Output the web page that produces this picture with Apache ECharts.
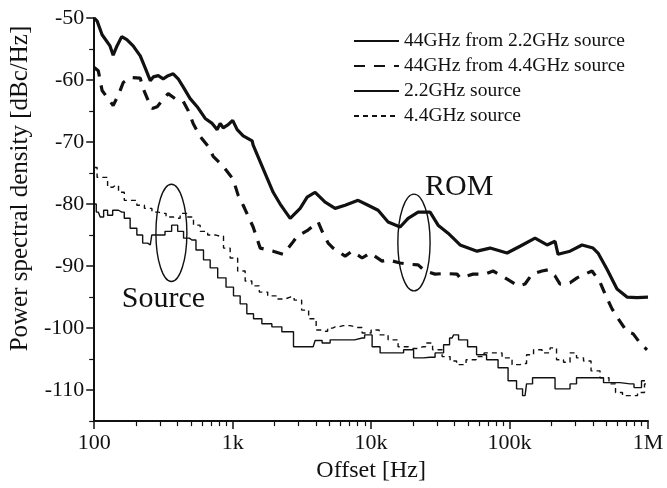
<!DOCTYPE html>
<html>
<head>
<meta charset="utf-8">
<script src="https://cdn.jsdelivr.net/npm/echarts@6/dist/echarts.min.js"></script>
<style>
  html, body { margin: 0; background: #fff; }
  #chart { width: 667px; height: 488px; }
</style>
</head>
<body>
<div id="chart"></div>
<script>
// [offset Hz, dBc/Hz]
const rom22 = [[100,-50],[105,-50.5],[114,-52.7],[130,-54.5],[137,-56],[146,-54.5],[158,-53],[172,-53.5],[191,-54.5],[215,-56.1],[233,-58],[254,-60.1],[267,-59.5],[290,-59.3],[315,-59.8],[342,-59.3],[372,-59],[404,-59.8],[439,-61.1],[493,-63],[554,-64.3],[633,-66.2],[711,-67],[773,-68],[812,-67],[854,-67.7],[928,-67.2],[1000,-66.5],[1078,-68],[1191,-69],[1383,-69.8],[1406,-70.5],[1667,-74.4],[1961,-78.1],[2203,-80],[2602,-82.3],[3072,-80.7],[3451,-78.9],[3941,-78.1],[4655,-79.7],[5495,-80.7],[6493,-80.2],[8055,-79.4],[9513,-80.2],[11230,-81],[13265,-82.9],[16200,-83.7],[18500,-82.3],[21850,-81.3],[26670,-81.3],[30460,-83.4],[35970,-84.7],[43920,-86.6],[58270,-87.6],[72320,-87.1],[95920,-87.9],[119100,-86.8],[152800,-85.5],[186600,-86.6],[213100,-86],[224000,-88.1],[273400,-87.6],[333800,-86.6],[400900,-87.1],[435500,-87.9],[505800,-90.5],[597400,-93.7],[705200,-95],[833000,-95.1],[1000000,-95]];

const rom44 = [[100,-58],[107,-58.5],[114,-61.7],[123,-62.7],[137,-64.1],[149,-62.5],[162,-60.4],[182,-59.6],[215,-59.7],[226,-61.4],[245,-63.3],[262,-64.6],[285,-64.3],[310,-63.3],[342,-62.2],[384,-63],[439,-63.4],[477,-64.9],[518,-67],[582,-69.1],[665,-70.7],[723,-72.3],[854,-73.9],[1008,-76],[1096,-78.6],[1191,-80.2],[1406,-83.7],[1580,-87.1],[1961,-87.6],[2315,-88.1],[2690,-86.3],[2922,-85.2],[3451,-84.3],[4143,-82.9],[4428,-84.4],[4893,-86.3],[5316,-87.1],[6493,-88.4],[7292,-87.6],[8610,-88.7],[9836,-87.9],[12000,-89.2],[13265,-89],[16200,-89.5],[18500,-89.7],[21850,-89.8],[24540,-90.8],[28980,-91.3],[34220,-91.2],[41780,-91.3],[43920,-91.9],[54520,-91.3],[66550,-91.3],[76020,-90.8],[88290,-91.6],[100800,-92.4],[115200,-93.2],[129400,-92.9],[145400,-91.3],[171700,-90.8],[189700,-90.6],[213100,-91.6],[231500,-92.9],[273400,-92.7],[307200,-91.9],[350900,-91.3],[394200,-90.8],[450200,-92.6],[489300,-94.5],[549600,-96.9],[597400,-98.2],[705200,-100.6],[779400,-100.9],[875600,-102.4],[983600,-103.5]];

const src22 = [[100,-80],[107,-81.3],[114,-82.1],[120,-81],[130,-81.8],[142,-81],[158,-81.3],[172,-82.3],[192,-83.9],[215,-85],[233,-86.3],[254,-86.6],[267,-85],[308,-85],[342,-84.4],[384,-83.4],[418,-84.4],[467,-85.5],[507,-85.8],[582,-87.4],[651,-89],[727,-90.3],[836,-91.9],[959,-93.4],[1072,-94.8],[1197,-96.1],[1338,-97.7],[1495,-98.5],[1766,-99.3],[2085,-99.8],[2462,-100.6],[3072,-103],[3813,-103],[4074,-102],[4813,-102.4],[5316,-101.9],[6711,-101.9],[8610,-101.6],[9357,-101.1],[11050,-103],[12210,-104],[15410,-104],[19120,-103.5],[21490,-104.8],[26670,-104.7],[31490,-104],[35380,-102.7],[38440,-101.6],[40420,-101.1],[45400,-101.9],[54520,-103],[61240,-104.3],[76020,-105.1],[89790,-106.4],[106000,-108.5],[119100,-109.8],[129400,-110.9],[136000,-109],[158000,-108],[206100,-108],[220300,-109.8],[260100,-109.8],[287400,-109],[322800,-108],[428300,-108],[531800,-108.8],[741300,-109],[847000,-109.6],[951200,-108.5]];

const src44 = [[100,-74.1],[110,-75.7],[120,-75.7],[130,-77.3],[142,-77],[158,-78.1],[172,-79.4],[192,-79.4],[215,-80.2],[247,-80.7],[276,-81.3],[308,-81.5],[354,-82.1],[395,-82.3],[441,-81.5],[493,-82.1],[551,-83.4],[615,-84.4],[708,-85],[812,-85.2],[908,-87.1],[1013,-88.7],[1165,-90.8],[1301,-92.4],[1454,-93.2],[1669,-94.2],[1919,-94.8],[2203,-95.3],[2602,-95],[2971,-95.5],[3338,-97.1],[3750,-98.5],[4284,-100.3],[4655,-100.5],[5058,-100],[5495,-99.8],[6279,-99.6],[7923,-99.9],[9357,-100.8],[10690,-100.3],[12210,-101.1],[14410,-101.9],[17020,-103],[20100,-103.3],[23740,-103],[25800,-102.4],[29960,-103.5],[35380,-104.6],[39090,-105.3],[43920,-105.9],[53610,-105.1],[61240,-104.6],[69960,-104],[81240,-104],[95920,-104.8],[113300,-105.9],[125200,-105.7],[140600,-104.3],[158000,-103.5],[186600,-104],[206100,-103.2],[231500,-105.1],[260100,-105.5],[287400,-104],[322800,-104.8],[362800,-105.3],[414400,-106.9],[489300,-108],[558900,-109],[607400,-110.4],[705200,-110.9],[779400,-110.9],[905000,-110.4],[983600,-109]];

const seriesNames = ['44GHz from 2.2GHz source', '44GHz from 4.4GHz source', '2.2GHz source', '4.4GHz source'];

const xTickValues = [100, 1000, 10000, 100000, 1000000];
const xTickLabels = ['100', '1k', '10k', '100k', '1M'];
const xMinorTicks = [200,300,400,500,600,700,800,900,2000,3000,4000,5000,6000,7000,8000,9000,20000,30000,40000,50000,60000,70000,80000,90000,200000,300000,400000,500000,600000,700000,800000,900000];
const yTickValues = [-110, -100, -90, -80, -70, -60, -50];
const yMinorTicks = [-115, -105, -95, -85, -75, -65, -55];

// ellipse bounds: [f low, f high, dB top, dB bottom]
const sourceRing = [279, 467, -76.8, -92.5];
const romRing = [15600, 26670, -78.4, -94];
// text anchors: [f, dB]
const sourceLabel = [158, -95.4];
const romLabel = [24540, -77.3];

const FONT = 'Liberation Serif';
const INK = '#111';

const chart = echarts.init(document.getElementById('chart'));

function line(name, data, width, type, step) {
  return {
    name: name,
    type: 'line',
    data: data,
    symbol: 'none',
    step: step || false,
    xAxisIndex: 0,
    yAxisIndex: 0,
    lineStyle: { color: INK, width: width, type: type, cap: 'butt' },
    itemStyle: { color: INK },
  };
}

chart.setOption({
  animation: false,
  backgroundColor: '#fff',
  grid: { left: 94, right: 19, top: 18, bottom: 60 },
  legend: {
    data: seriesNames,
    orient: 'vertical',
    left: 353,
    top: 31,
    padding: 0,
    itemWidth: 45,
    itemHeight: 14,
    itemGap: 5,
    itemStyle: { opacity: 0 },
    textStyle: { fontFamily: FONT, fontSize: 19.5, color: INK, lineHeight: 20 },
  },
  xAxis: [
    {
      type: 'log',
      logBase: 10,
      min: 100,
      max: 1000000,
      name: 'Offset [Hz]',
      nameLocation: 'middle',
      nameGap: 26,
      nameTextStyle: { fontFamily: FONT, fontSize: 24, color: INK },
      axisLine: { lineStyle: { color: INK, width: 2 } },
      axisTick: { length: 8, lineStyle: { color: INK, width: 1.5 } },
      axisLabel: {
        margin: 11,
        fontFamily: FONT,
        fontSize: 22,
        color: INK,
        formatter: (v) => xTickLabels[Math.round(Math.log10(v)) - 2],
      },
      splitLine: { show: false },
    },
    {
      type: 'log',
      logBase: 10,
      min: 100,
      max: 1000000,
      position: 'bottom',
      axisLine: { show: false },
      axisTick: { length: 5, customValues: xMinorTicks, lineStyle: { color: INK, width: 1.2 } },
      axisLabel: { show: false },
      splitLine: { show: false },
    },
  ],
  yAxis: [
    {
      type: 'value',
      min: -115,
      max: -50,
      name: 'Power spectral density [dBc/Hz]',
      nameLocation: 'middle',
      nameGap: 58,
      nameTextStyle: { fontFamily: FONT, fontSize: 25, color: INK, padding: [0, 0, 0, 62] },
      axisLine: { show: true, lineStyle: { color: INK, width: 2 } },
      axisTick: { show: true, length: 8, customValues: yTickValues, lineStyle: { color: INK, width: 1.5 } },
      axisLabel: { margin: 10, fontFamily: FONT, fontSize: 22, color: INK, customValues: yTickValues },
      splitLine: { show: false },
    },
    {
      type: 'value',
      min: -115,
      max: -50,
      position: 'left',
      axisLine: { show: false },
      axisTick: { show: true, length: 5, customValues: yMinorTicks, lineStyle: { color: INK, width: 1.2 } },
      axisLabel: { show: false },
      splitLine: { show: false },
    },
  ],
  series: [
    line(seriesNames[0], rom22, 3.2, 'solid'),
    line(seriesNames[1], rom44, 3.2, [11, 9]),
    line(seriesNames[2], src22, 1.4, 'solid', 'middle'),
    line(seriesNames[3], src44, 1.4, [5, 4], 'middle'),
  ],
});

function px(pt) {
  return chart.convertToPixel({ xAxisIndex: 0, yAxisIndex: 0 }, pt);
}

function ring(b) {
  const a = px([b[0], b[2]]);
  const c = px([b[1], b[3]]);
  return {
    type: 'ellipse',
    shape: { cx: (a[0] + c[0]) / 2, cy: (a[1] + c[1]) / 2, rx: Math.abs(c[0] - a[0]) / 2, ry: Math.abs(c[1] - a[1]) / 2 },
    style: { fill: 'none', stroke: INK, lineWidth: 1.4 },
    z: 10,
  };
}

function label(text, at) {
  const p = px(at);
  return {
    type: 'text',
    x: p[0],
    y: p[1],
    style: { text: text, fontFamily: FONT, fontSize: 30, fill: INK, align: 'left', verticalAlign: 'middle' },
    z: 10,
  };
}

chart.setOption({
  graphic: [
    ring(sourceRing),
    ring(romRing),
    label('Source', sourceLabel),
    label('ROM', romLabel),
  ],
});
</script>
</body>
</html>
